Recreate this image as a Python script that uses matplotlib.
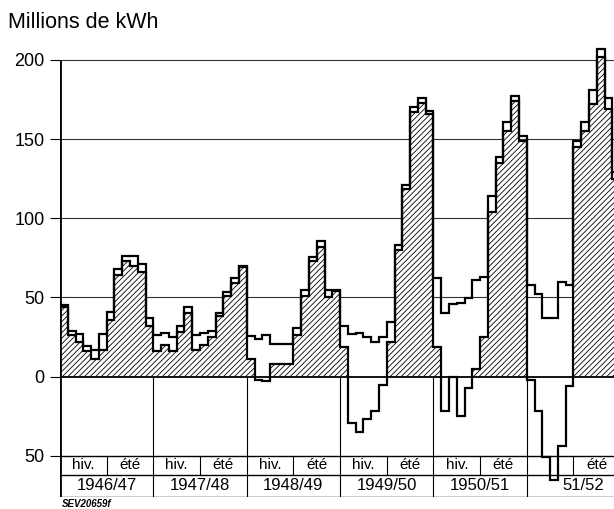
import matplotlib.pyplot as plt
import numpy as np

plt.rcParams['font.family'] = ['Liberation Sans', 'DejaVu Sans']
plt.rcParams['hatch.linewidth'] = 0.6

# Monthly values (Oct..Sep), millions of kWh
years = ['1946/47', '1947/48', '1948/49', '1949/50', '1950/51', '51/52']
seasons = ['hiv.', 'été']

# upper step line
export_4647 = [45, 29, 27, 19.5, 17, 27, 41, 68, 76, 76, 71, 37]
export_4748 = [26, 27.5, 25, 32, 44, 26, 27.5, 29, 40, 53.5, 62, 70]
export_4849 = [25.5, 24, 26, 20.5, 20.5, 20.5, 31, 54.5, 75.5, 85.5, 54.5, 54.5]
export_4950 = [32, 27, 27.7, 25, 22, 25, 34.4, 83, 121, 170, 176, 168]
export_5051 = [62, 40, 46, 46.5, 49.5, 61, 63, 114, 139, 161, 177, 152]
export_5152 = [58, 52, 37, 37, 60, 58, 149, 161, 181, 207, 176, 129]

# lower step line (hatched where positive)
net_4647 = [44, 26.5, 22, 16, 11, 17, 36, 64.5, 73, 70, 66, 32]
net_4748 = [16, 20, 16, 28, 40, 17, 20, 25, 38, 50.7, 59, 69.5]
net_4849 = [11, -2, -3, 8, 8, 8, 26, 50.7, 73, 82, 50.3, 54]
net_4950 = [19, -29, -35, -27, -22, -5, 22, 80, 118.5, 167, 173, 166]
net_5051 = [19, -22, 0, -25, -7, 5, 25, 104, 135, 155, 174, 149]
net_5152 = [-2, -22, -51, -65, -44, -6, 145, 155, 172, 202, 169, 125]

export = np.array(export_4647 + export_4748 + export_4849 + export_4950 + export_5051 + export_5152)
net = np.array(net_4647 + net_4748 + net_4849 + net_4950 + net_5051 + net_5152)
edges = np.arange(len(export) + 1)

fig = plt.figure(figsize=(6.14, 5.09), dpi=100)
ax = fig.add_axes([60 / 614, 1 - 497 / 509, 554 / 614, 456 / 509])
xmax = 554 / 7.78
ax.set_xlim(0, xmax)
ax.set_ylim(-76, 212)
for s in ax.spines.values():
    s.set_visible(False)

# grid and table frame
ax.hlines([50, 100, 150, 200], 0, xmax, color='#333333', lw=0.8, zorder=1)
ax.hlines(0, 0, xmax, color='black', lw=1.3, zorder=4)
ax.hlines([-50, -62, -76], 0, xmax, color='black', lw=1.0, zorder=1)
ax.vlines(0, -76, 200, color='black', lw=2.0, zorder=5)
ax.vlines([12, 24, 36, 48, 60], -76, 0, color='black', lw=0.8, zorder=1)
ax.vlines([6, 18, 30, 42, 54, 66], -62, -50, color='black', lw=0.8, zorder=1)

# hatched area and step lines
ax.stairs(np.clip(net, 0, None), edges, baseline=0, fill=True, facecolor='white',
          edgecolor='black', hatch='//////', lw=0, zorder=2)
ax.stairs(net, edges, baseline=None, color='black', lw=1.6, zorder=3)
ax.stairs(export, edges, baseline=None, color='black', lw=1.6, zorder=3)

# table labels
for i, yr in enumerate(years):
    for j, s in enumerate(seasons):
        if i == 5 and j == 0:
            continue
        ax.text(12 * i + 3 + 6 * j, -56, s, ha='center', va='center', fontsize=11)
    xc = 12 * i + 6 if i < 5 else 67.3
    ax.text(xc, -69, yr, ha='center', va='center', fontsize=12)

ax.set_xticks([])
ax.set_yticks([200, 150, 100, 50, 0, -50])
ax.set_yticklabels(['200', '150', '100', '50', '0', '50'])
ax.tick_params(axis='y', length=7, width=0.8, labelsize=13, pad=4)

fig.text(8 / 614, 1 - 22 / 509, 'Millions de kWh', fontsize=15.5, va='center', ha='left')
fig.text(62 / 614, 1 - 504 / 509, 'SEV20659f', fontsize=7, style='italic',
         fontweight='bold', va='center', ha='left')

fig.savefig('out.png', dpi=100)
